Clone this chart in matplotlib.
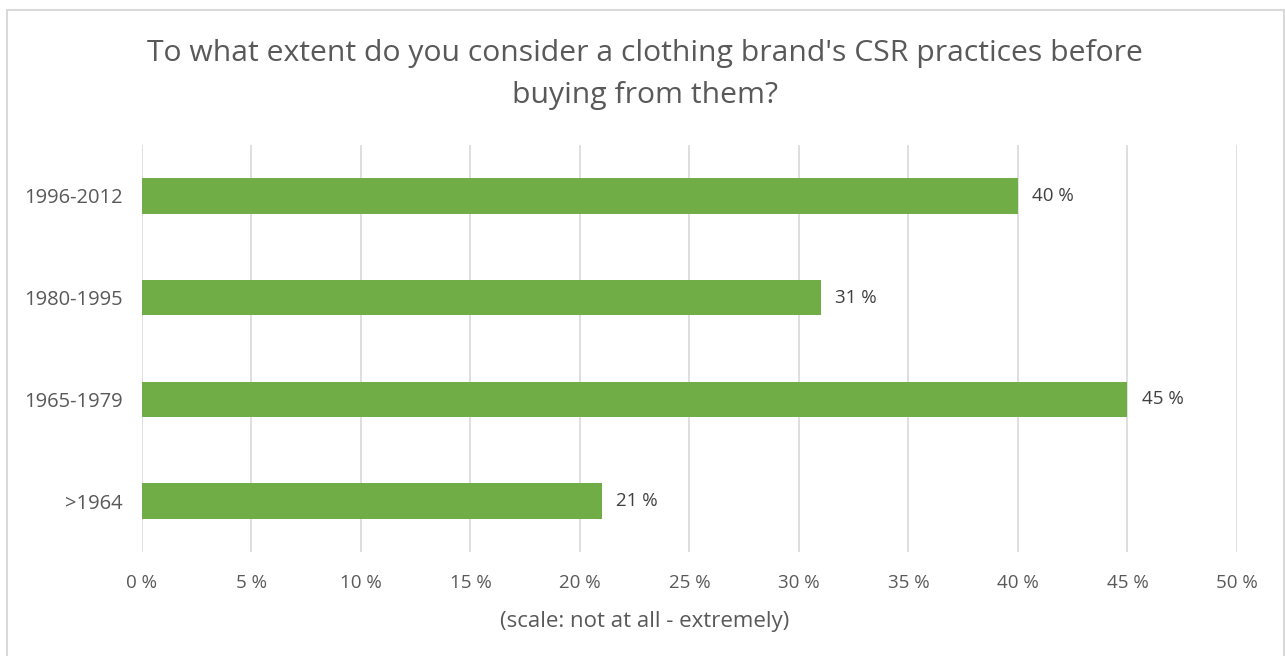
import matplotlib.pyplot as plt
from matplotlib.patches import Rectangle
from matplotlib.ticker import FuncFormatter

categories = ["1996-2012", "1980-1995", "1965-1979", ">1964"]
values = [40, 31, 45, 21]
x_ticks = [0, 5, 10, 15, 20, 25, 30, 35, 40, 45, 50]

plt.rcParams["font.family"] = ["Open Sans", "DejaVu Sans"]

fig = plt.figure(figsize=(12.85, 6.56), dpi=100)
ax = fig.add_axes([0.1105, 0.1585, 0.8521, 0.6205])

# chart frame, open at the bottom
fig.patches.append(Rectangle((7 / 1285, -0.05), 1277 / 1285, 1.05 - 10 / 656,
                             transform=fig.transFigure, fill=False,
                             edgecolor="#d9d9d9", lw=1.5))

y = range(len(categories))
ax.barh(y, values, height=0.35, color="#70ad47", zorder=3)
for yi, v in zip(y, values):
    ax.text(v + 0.65, yi, f"{v} %", va="center", ha="left",
            fontsize=13.5, color="#404040")

ax.set_xlim(0, 50)
ax.set_ylim(len(categories) - 0.5, -0.5)
ax.set_xticks(x_ticks)
ax.xaxis.set_major_formatter(FuncFormatter(lambda v, p: f"{v:.0f} %"))
ax.set_yticks(list(y))
ax.set_yticklabels(categories, fontsize=14.5)
ax.tick_params(axis="both", length=0, labelcolor="#595959")
ax.tick_params(axis="x", pad=16, labelsize=13.5)
ax.tick_params(axis="y", pad=14)
ax.grid(axis="x", color="#d9d9d9", lw=1.2, zorder=0)
for s in ax.spines.values():
    s.set_visible(False)

# axis caption and title are centred on the whole chart
fig.text(0.502, 1 - 621 / 656, "(scale: not at all - extremely)", ha="center",
         va="center", fontsize=16, color="#595959")
fig.text(0.502, 0.887, "To what extent do you consider a clothing brand's CSR practices before\nbuying from them?",
         ha="center", va="center", fontsize=21.7, color="#595959", linespacing=1.6)

fig.savefig("out.png", dpi=100)
